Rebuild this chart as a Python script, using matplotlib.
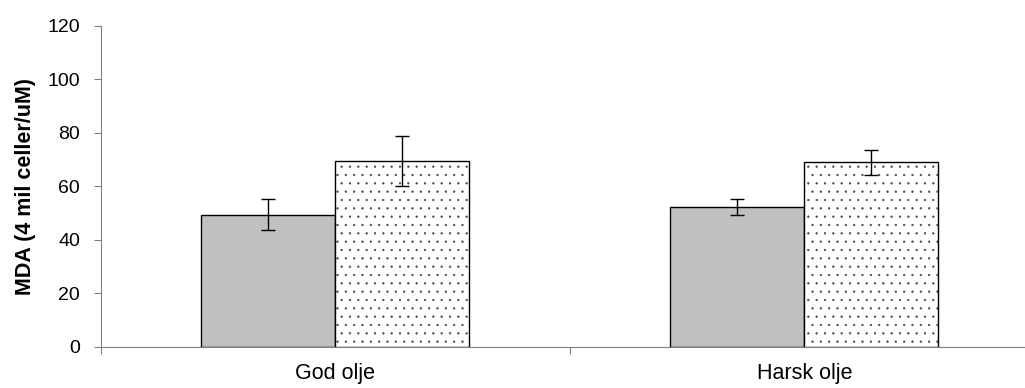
import numpy as np
import matplotlib
matplotlib.use("Agg")
import matplotlib.pyplot as plt

plt.rcParams["font.family"] = ["Liberation Sans", "DejaVu Sans"]
plt.rcParams["hatch.linewidth"] = 0.4

# ── Data ──
categories = ["God olje", "Harsk olje"]
grey_vals = [49.4, 52.1]
grey_err = [5.8, 3.0]
dot_vals = [69.5, 69.0]
dot_err = [9.5, 4.6]

bw = 1 / 3.5
x = np.arange(len(categories))

fig = plt.figure(figsize=(10.25, 3.88), dpi=100)
ax = fig.add_axes([0.0985, 0.1064, 0.915, 0.8266])

ax.bar(x - bw / 2, grey_vals, width=bw, color="#C0C0C0", edgecolor="black", linewidth=1.0)
# dotted bars: hatch in dark grey, outline drawn on top in black
ax.bar(x + bw / 2, dot_vals, width=bw, color="white", edgecolor="#444444", linewidth=0, hatch="..")
ax.bar(x + bw / 2, dot_vals, width=bw, fill=False, edgecolor="black", linewidth=1.0)

ek = dict(fmt="none", ecolor="black", elinewidth=1.0, capsize=4.8, capthick=1.0)
ax.errorbar(x - bw / 2, grey_vals, yerr=grey_err, **ek)
ax.errorbar(x + bw / 2, dot_vals, yerr=dot_err, **ek)

ax.set_xlim(-0.5, len(categories) - 0.5)
ax.set_ylim(0, 120)
ax.set_yticks(np.arange(0, 121, 20))

ax.set_xticks(np.arange(-0.5, len(categories), 1.0))
ax.set_xticklabels([])
ax.set_xticks(x, minor=True)
ax.set_xticklabels(categories, minor=True)
ax.tick_params(axis="x", which="minor", length=0, pad=12, labelsize=15.5)
ax.tick_params(axis="x", which="major", length=5, color="#808080", direction="out")
ax.tick_params(axis="y", length=5, color="#808080", labelsize=14, pad=10)

for s in ["top", "right"]:
    ax.spines[s].set_visible(False)
for s in ["left", "bottom"]:
    ax.spines[s].set_color("#808080")

ax.set_ylabel("MDA (4 mil celler/uM)", fontsize=15.5, fontweight="bold", labelpad=8)

fig.savefig("out.png", dpi=100)
